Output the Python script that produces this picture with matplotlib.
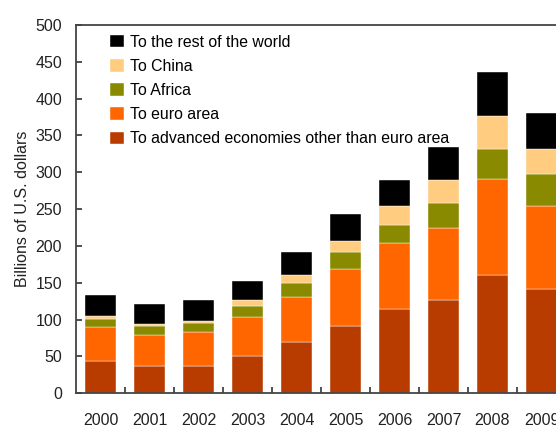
import matplotlib
matplotlib.use("Agg")
import matplotlib.pyplot as plt
import numpy as np

# Datos (miles de millones de USD)
years = ["2000", "2001", "2002", "2003", "2004", "2005", "2006", "2007", "2008", "2009"]
advanced = [44, 37, 37, 51, 70, 92, 115, 127, 160, 142]
euro_area = [46, 42, 46, 53, 61, 77, 89, 98, 131, 112]
africa = [11, 12, 13, 15, 19, 23, 25, 33, 40, 44]
china = [4, 3, 2, 7, 11, 15, 25, 32, 46, 33]
rest = [29, 27, 28, 27, 31, 37, 35, 44, 59, 50]

labels = ["To advanced economies other than euro area", "To euro area",
          "To Africa", "To China", "To the rest of the world"]
colors = ["#B83C00", "#FF6600", "#8A8A00", "#FFCC80", "#000000"]

plt.rcParams["font.family"] = "Liberation Sans"

fig = plt.figure(figsize=(5.56, 4.29), dpi=100)
ax = fig.add_axes([76 / 556, 1 - 393.3 / 429, 490 / 556, 368.3 / 429])

x = np.arange(len(years))
bottom = np.zeros(len(years))
handles = []
for serie, lab, col in zip([advanced, euro_area, africa, china, rest], labels, colors):
    b = ax.bar(x, serie, width=0.63, bottom=bottom, color=col, label=lab,
               edgecolor="white", linewidth=0.3)
    bottom += np.array(serie)
    handles.append(b)

# Ejes
ax.set_xlim(-0.5, len(years) - 0.5)
ax.set_ylim(0, 500)
ax.set_yticks(range(0, 501, 50))
ax.set_xticks(x)
ax.set_xticklabels(years)
ax.set_xticks(x[:-1] + 0.5, minor=True)
ax.tick_params(axis="x", which="major", length=0, pad=14, labelsize=11.5, labelcolor="#222222")
ax.tick_params(axis="x", which="minor", direction="in", length=4.5, width=1.2, color="#333333")
ax.tick_params(axis="y", direction="in", length=4.5, width=1.2, color="#333333",
               pad=10, labelsize=11.5, labelcolor="#222222")
for s in ax.spines.values():
    s.set_color("#444444")
    s.set_linewidth(1.3)

ax.set_ylabel("Billions of U.S. dollars", fontsize=11.5, color="#222222", labelpad=4)

# Leyenda (orden inverso a la pila)
ax.legend(handles[::-1], labels[::-1], loc="upper left",
          bbox_to_anchor=(0.07, 0.974), frameon=False, fontsize=11.4,
          handlelength=0.85, handleheight=0.85, handletextpad=0.4,
          labelspacing=0.58, borderpad=0, borderaxespad=0)

fig.savefig("out.png", dpi=100)
